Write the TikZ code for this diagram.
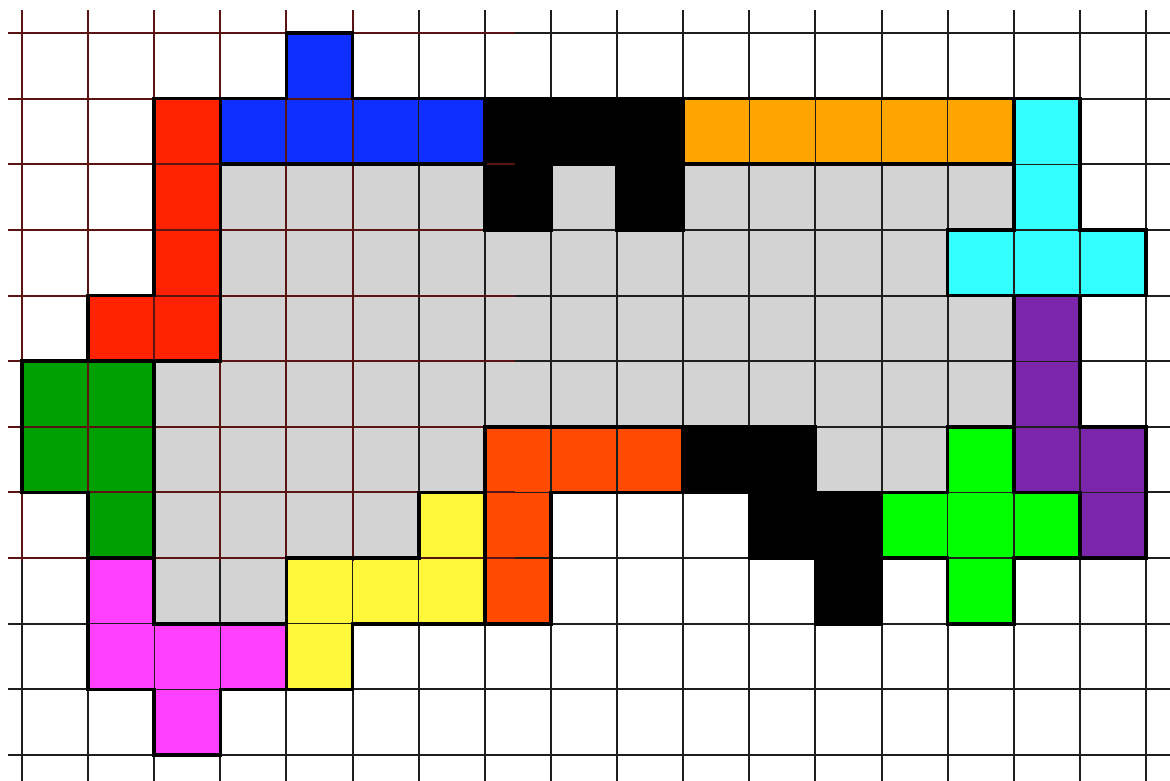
\documentclass[tikz,border=0pt]{standalone}
\usepackage{tikz}
\definecolor{cBlue}{HTML}{0F2FFF}
\definecolor{cRed}{HTML}{FF2200}
\definecolor{cOrange}{HTML}{FFA500}
\definecolor{cCyan}{HTML}{33FFFF}
\definecolor{cPurple}{HTML}{7A25AA}
\definecolor{cDGreen}{HTML}{00A000}
\definecolor{cMagenta}{HTML}{FF40FF}
\definecolor{cYellow}{HTML}{FFF83A}
\definecolor{cOrRed}{HTML}{FF4A00}
\definecolor{cBGreen}{HTML}{00FF00}
\definecolor{cGray}{HTML}{D3D3D3}
\definecolor{cGrid}{HTML}{1E1E1E}
\definecolor{cRGrid}{HTML}{5A1414}
\tikzset{
  gridline/.style={draw=cGrid, line width=2pt},
  redline/.style={draw=cRGrid, line width=2pt},
  piece/.style={draw=black, line width=3.6pt, line join=miter},
}
\begin{document}
\begin{tikzpicture}[x=1pt,y=1pt]
\useasboundingbox (0,0) rectangle (1170,-781);
\fill[white] (0,0) rectangle (1170,-781);
\begin{scope}[shift={(22pt,-33pt)}, x={(66.12pt,0pt)}, y={(0pt,-65.64pt)}]
% gray interior
\foreach \c in {3,4,5,6,8,10,11,12,13,14} \fill[cGray] (\c,2) rectangle ++(1,1);
\foreach \c in {3,...,13} \fill[cGray] (\c,3) rectangle ++(1,1);
\foreach \c in {3,...,14} \fill[cGray] (\c,4) rectangle ++(1,1);
\foreach \c in {2,...,14} \fill[cGray] (\c,5) rectangle ++(1,1);
\foreach \c in {2,...,6,12,13} \fill[cGray] (\c,6) rectangle ++(1,1);
\foreach \c in {2,...,5} \fill[cGray] (\c,7) rectangle ++(1,1);
\foreach \c in {2,3} \fill[cGray] (\c,8) rectangle ++(1,1);
% grid
\foreach \c in {0,...,17} \draw[gridline] (\c,-0.35) -- (\c,11.4);
\foreach \r in {0,...,11} \draw[gridline] (-0.212,\r) -- (17.4,\r);
% pieces fills (grid shows through as thin lines)
\foreach \c/\r in {4/0,3/1,4/1,5/1,6/1} \fill[cBlue] (\c,\r) rectangle ++(1,1);
\foreach \c/\r in {2/1,2/2,2/3,2/4,1/4} \fill[cRed] (\c,\r) rectangle ++(1,1);
\foreach \c/\r in {7/1,8/1,9/1,7/2,9/2} \fill[black] (\c,\r) rectangle ++(1,1);
\foreach \c/\r in {10/1,11/1,12/1,13/1,14/1} \fill[cOrange] (\c,\r) rectangle ++(1,1);
\foreach \c/\r in {15/1,15/2,15/3,14/3,16/3} \fill[cCyan] (\c,\r) rectangle ++(1,1);
\foreach \c/\r in {15/4,15/5,15/6,16/6,16/7} \fill[cPurple] (\c,\r) rectangle ++(1,1);
\foreach \c/\r in {0/5,1/5,0/6,1/6,1/7} \fill[cDGreen] (\c,\r) rectangle ++(1,1);
\foreach \c/\r in {1/8,1/9,2/9,3/9,2/10} \fill[cMagenta] (\c,\r) rectangle ++(1,1);
\foreach \c/\r in {6/7,4/8,5/8,6/8,4/9} \fill[cYellow] (\c,\r) rectangle ++(1,1);
\foreach \c/\r in {7/6,8/6,9/6,7/7,7/8} \fill[cOrRed] (\c,\r) rectangle ++(1,1);
\foreach \c/\r in {10/6,11/6,11/7,12/7,12/8} \fill[black] (\c,\r) rectangle ++(1,1);
\foreach \c/\r in {14/6,13/7,14/7,15/7,14/8} \fill[cBGreen] (\c,\r) rectangle ++(1,1);
% thin cell edges inside coloured pieces
\foreach \c/\r in {4/0,3/1,4/1,5/1,6/1, 2/1,2/2,2/3,2/4,1/4, 10/1,11/1,12/1,13/1,14/1,
  15/1,15/2,15/3,14/3,16/3, 15/4,15/5,15/6,16/6,16/7, 0/5,1/5,0/6,1/6,1/7,
  1/8,1/9,2/9,3/9,2/10, 6/7,4/8,5/8,6/8,4/9, 7/6,8/6,9/6,7/7,7/8,
  14/6,13/7,14/7,15/7,14/8}
  \draw[draw=cGrid, line width=1.4pt] (\c,\r) rectangle ++(1,1);
% reddish overlay grid
\foreach \c in {0,...,5} \draw[redline] (\c,-0.35) -- (\c,8.05);
\foreach \r in {0,...,8} \draw[redline] (-0.212,\r) -- (7.45,\r);
% piece outlines
\draw[piece] (4,0) -- (5,0) -- (5,1) -- (7,1) -- (7,2) -- (3,2) -- (3,1) -- (4,1) -- cycle;
\draw[piece] (2,1) -- (3,1) -- (3,5) -- (1,5) -- (1,4) -- (2,4) -- cycle;
\draw[piece] (7,1) -- (10,1) -- (10,3) -- (9,3) -- (9,2) -- (8,2) -- (8,3) -- (7,3) -- cycle;
\draw[piece] (10,1) rectangle (15,2);
\draw[piece] (15,1) -- (16,1) -- (16,3) -- (17,3) -- (17,4) -- (14,4) -- (14,3) -- (15,3) -- cycle;
\draw[piece] (15,4) -- (16,4) -- (16,6) -- (17,6) -- (17,8) -- (16,8) -- (16,7) -- (15,7) -- cycle;
\draw[piece] (0,5) -- (2,5) -- (2,8) -- (1,8) -- (1,7) -- (0,7) -- cycle;
\draw[piece] (1,8) -- (2,8) -- (2,9) -- (4,9) -- (4,10) -- (3,10) -- (3,11) -- (2,11) -- (2,10) -- (1,10) -- cycle;
\draw[piece] (6,7) -- (7,7) -- (7,9) -- (5,9) -- (5,10) -- (4,10) -- (4,8) -- (6,8) -- cycle;
\draw[piece] (7,6) -- (10,6) -- (10,7) -- (8,7) -- (8,9) -- (7,9) -- cycle;
\draw[piece] (10,6) -- (12,6) -- (12,7) -- (13,7) -- (13,9) -- (12,9) -- (12,8) -- (11,8) -- (11,7) -- (10,7) -- cycle;
\draw[piece] (14,6) -- (15,6) -- (15,7) -- (16,7) -- (16,8) -- (15,8) -- (15,9) -- (14,9) -- (14,8) -- (13,8) -- (13,7) -- (14,7) -- cycle;
\end{scope}
\end{tikzpicture}
\end{document}
